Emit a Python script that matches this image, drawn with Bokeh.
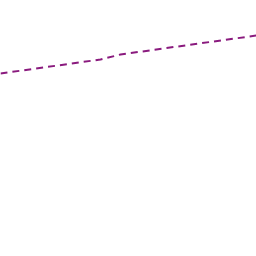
from bokeh.plotting import figure
from bokeh.models import Range1d
from bokeh.embed import file_html
from bokeh.resources import INLINE

x_vals = [0, 100, 120, 256]
y_vals = [73, 59, 54, 35]

p = figure(width=256, height=256, output_backend="svg", toolbar_location=None,
           x_range=Range1d(0, 256), y_range=Range1d(256, 0), min_border=0)
p.axis.visible = False
p.grid.visible = False
p.outline_line_color = None
p.background_fill_color = "white"
p.border_fill_color = "white"
p.line(x_vals, y_vals, line_color="#8a1a7e", line_width=2, line_dash="7 5")

open("out.html", "w").write(file_html(p, INLINE))
